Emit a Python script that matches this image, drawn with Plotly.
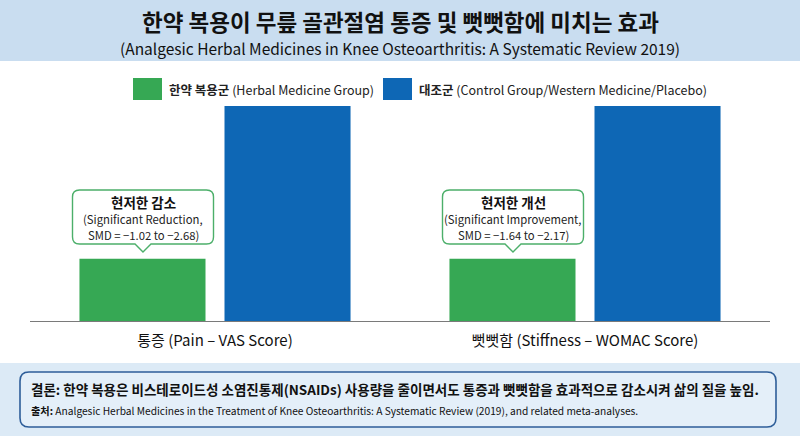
import plotly.graph_objects as go

W, H = 800, 436
FONT = "Noto Sans CJK KR"

# data (relative score, control group = 100)
categories = ["통증 (Pain – VAS Score)", "뻣뻣함 (Stiffness – WOMAC Score)"]
herbal_values = [29, 29]
control_values = [100, 100]
series_names = ["한약 복용군 (Herbal Medicine Group)",
                "대조군 (Control Group/Western Medicine/Placebo)"]
callout_titles = ["현저한 감소", "현저한 개선"]
callout_lines = [["(Significant Reduction,", "SMD = −1.02 to −2.68)"],
                 ["(Significant Improvement,", "SMD = −1.64 to −2.17)"]]

GREEN = "#36a854"
BLUE = "#0e67b5"


def fx(px):
    return px / W


def fy(py):
    return 1 - py / H


def rounded_path(x0, y0, x1, y1, r, tip=None):
    """Rounded rect path in pixel coords -> paper coords, optional pointer at bottom."""
    pts = []
    pts.append(f"M {fx(x0 + r)},{fy(y0)}")
    pts.append(f"L {fx(x1 - r)},{fy(y0)}")
    pts.append(f"Q {fx(x1)},{fy(y0)} {fx(x1)},{fy(y0 + r)}")
    pts.append(f"L {fx(x1)},{fy(y1 - r)}")
    pts.append(f"Q {fx(x1)},{fy(y1)} {fx(x1 - r)},{fy(y1)}")
    if tip is not None:
        tx, ty = tip
        pts.append(f"L {fx(tx + 8)},{fy(y1)}")
        pts.append(f"L {fx(tx)},{fy(ty)}")
        pts.append(f"L {fx(tx - 8)},{fy(y1)}")
    pts.append(f"L {fx(x0 + r)},{fy(y1)}")
    pts.append(f"Q {fx(x0)},{fy(y1)} {fx(x0)},{fy(y1 - r)}")
    pts.append(f"L {fx(x0)},{fy(y0 + r)}")
    pts.append(f"Q {fx(x0)},{fy(y0)} {fx(x0 + r)},{fy(y0)}")
    pts.append("Z")
    return " ".join(pts)


def label(text, px, py, size, anchor="center", color="#111111"):
    return dict(text=text, x=fx(px), y=fy(py), xref="paper", yref="paper",
                xanchor=anchor, yanchor="middle", showarrow=False, borderpad=0,
                font=dict(size=size, color=color))


fig = go.Figure()
fig.add_trace(go.Bar(x=categories, y=herbal_values, name=series_names[0],
                     marker=dict(color=GREEN, line=dict(width=0))))
fig.add_trace(go.Bar(x=categories, y=control_values, name=series_names[1],
                     marker=dict(color=BLUE, line=dict(width=0))))

shapes = [
    # header band
    dict(type="rect", xref="paper", yref="paper", x0=0, x1=1, y0=fy(61), y1=1,
         fillcolor="#c9ddf0", line=dict(width=0), layer="below"),
    # bottom band
    dict(type="rect", xref="paper", yref="paper", x0=0, x1=1, y0=0, y1=fy(363),
         fillcolor="#dceaf6", line=dict(width=0), layer="below"),
    # bottom box
    dict(type="path", xref="paper", yref="paper",
         path=rounded_path(20, 372, 776, 427, 9),
         fillcolor="#e4eff9", line=dict(color="#2e5e99", width=1.6)),
    # legend swatches
    dict(type="rect", xref="paper", yref="paper", x0=fx(133), x1=fx(162),
         y0=fy(100), y1=fy(78), fillcolor=GREEN, line=dict(width=0)),
    dict(type="rect", xref="paper", yref="paper", x0=fx(383), x1=fx(412),
         y0=fy(100), y1=fy(78), fillcolor=BLUE, line=dict(width=0)),
]


def legend_text(name):
    kr, en = name.split(" (", 1)
    return f"<b>{kr}</b> ({en}"


annotations = [
    label("<b>한약 복용이 무릎 골관절염 통증 및 뻣뻣함에 미치는 효과</b>", 400, 20.5, 22.5),
    label("(Analgesic Herbal Medicines in Knee Osteoarthritis: A Systematic Review 2019)",
          400, 48, 15.5),
    label(legend_text(series_names[0]), 168, 89, 12.5, "left", "#222222"),
    label(legend_text(series_names[1]), 418, 89, 12.5, "left", "#222222"),
    label("<b>결론: 한약 복용은 비스테로이드성 소염진통제(NSAIDs) 사용량을 줄이면서도 "
          "통증과 뻣뻣함을 효과적으로 감소시켜 삶의 질을 높임.</b>", 30, 389, 13.5, "left"),
    label("<b>출처:</b> Analgesic Herbal Medicines in the Treatment of Knee Osteoarthritis: "
          "A Systematic Review (2019), and related meta-analyses.", 30, 410, 10.2, "left"),
]

# callouts above the herbal bars
for cx, title, lines in zip([143, 513], callout_titles, callout_lines):
    shapes.append(dict(type="path", xref="paper", yref="paper",
                       path=rounded_path(cx - 70.5, 190, cx + 70.5, 244, 7, tip=(cx, 252)),
                       fillcolor="white", line=dict(color="#4caf6a", width=1.4)))
    annotations.append(label(f"<b>{title}</b>", cx, 201.5, 13.5))
    annotations.append(label(lines[0], cx, 219, 11.3, color="#222222"))
    annotations.append(label(lines[1], cx, 234.5, 11.3, color="#222222"))

fig.update_layout(
    width=W, height=H,
    margin=dict(l=0, r=0, t=0, b=0),
    paper_bgcolor="white", plot_bgcolor="rgba(0,0,0,0)",
    barmode="group", bargap=0.216, bargroupgap=0.131,
    showlegend=False,
    font=dict(family=FONT, color="#111111"),
    shapes=shapes, annotations=annotations,
)
fig.update_xaxes(domain=[fx(30), fx(770)], showline=True, linecolor="#7a7a7a",
                 linewidth=1, showgrid=False, ticks="", ticklabelstandoff=6,
                 tickfont=dict(size=15, color="#111111"))
fig.update_yaxes(domain=[fy(321), fy(60)], range=[0, 100 * 261 / 215],
                 visible=False, showgrid=False, zeroline=False)

fig.write_html("out.html", config={"displayModeBar": False},
               post_script="document.body.style.margin='0';")
